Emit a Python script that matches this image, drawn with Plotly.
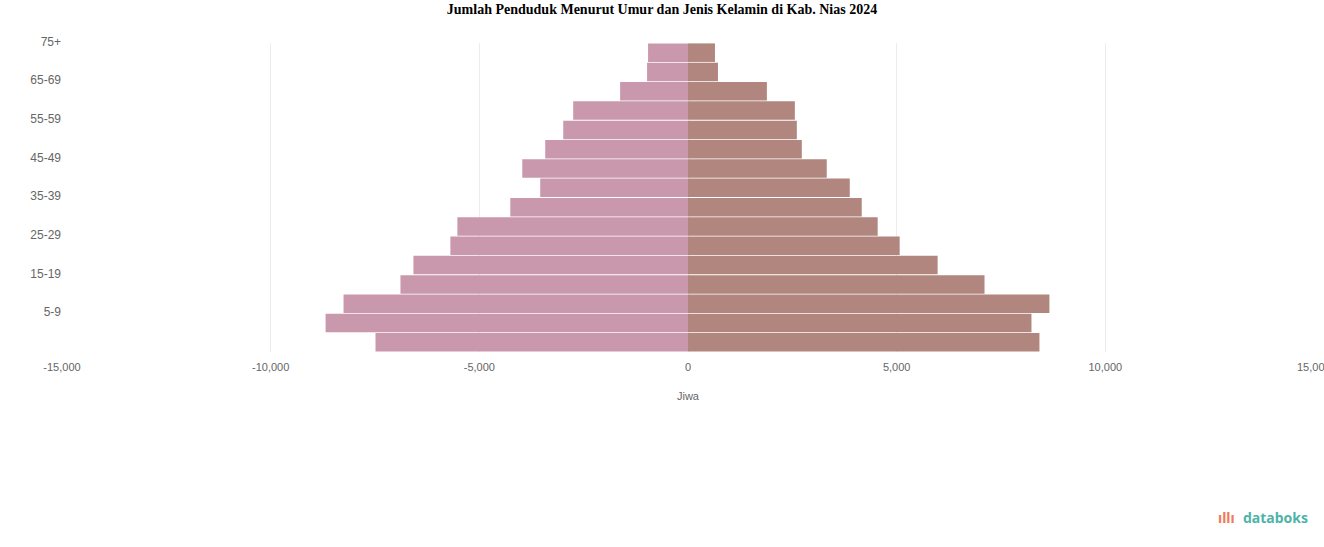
import plotly.graph_objects as go

age_groups = ["0-4", "5-9", "10-14", "15-19", "20-24", "25-29", "30-34", "35-39",
              "40-44", "45-49", "50-54", "55-59", "60-64", "65-69", "70-74", "75+"]
left_values = [7488, 8684, 8254, 6890, 6579, 5694, 5526, 4258,
               3541, 3971, 3421, 2990, 2751, 1627, 981, 957]
right_values = [8421, 8230, 8660, 7105, 5981, 5072, 4545, 4163,
                3876, 3325, 2727, 2608, 2560, 1890, 718, 646]
x_ticks = [-15000, -10000, -5000, 0, 5000, 10000, 15000]
x_tick_text = ["-15,000", "-10,000", "-5,000", "0", "5,000", "10,000", "15,000"]
y_tick_labels = age_groups[1::2]

fig = go.Figure()
fig.add_trace(go.Bar(
    y=age_groups, x=[-v for v in left_values], orientation="h",
    name="Laki-laki", marker=dict(color="#ca98ad", line=dict(width=0)),
    customdata=left_values, hovertemplate="%{y}: %{customdata:,}<extra></extra>",
))
fig.add_trace(go.Bar(
    y=age_groups, x=right_values, orientation="h",
    name="Perempuan", marker=dict(color="#b1867e", line=dict(width=0)),
    hovertemplate="%{y}: %{x:,}<extra></extra>",
))

fig.update_layout(
    width=1324, height=547,
    margin=dict(l=62, r=10, t=43, b=195, autoexpand=False),
    paper_bgcolor="white", plot_bgcolor="white",
    barmode="relative", bargap=0.04,
    showlegend=False,
    title=dict(text="<b>Jumlah Penduduk Menurut Umur dan Jenis Kelamin di Kab. Nias 2024</b>",
               x=0.5, xanchor="center", y=0.984, yanchor="middle",
               font=dict(family="Liberation Serif, Times New Roman, serif", size=14, color="#000000")),
    font=dict(family="Liberation Sans, Arial, sans-serif", size=12, color="#666666"),
)
fig.update_xaxes(
    range=[-15000, 15000], tickvals=x_ticks, ticktext=x_tick_text,
    showgrid=True, gridcolor="#ececec", gridwidth=1,
    zeroline=False, showline=False, ticks="",
    ticklabelstandoff=7,
    tickfont=dict(size=11, color="#666666"),
    title=dict(text="Jiwa", font=dict(size=11, color="#666666"), standoff=20),
)
fig.update_yaxes(
    type="category", categoryorder="array", categoryarray=age_groups,
    tickvals=y_tick_labels, ticktext=y_tick_labels,
    showgrid=False, zeroline=False, showline=False, ticks="",
    ticklabelshift=-11, ticklabelstandoff=0,
    tickfont=dict(size=12, color="#666666"),
)

# last x tick label (cut at the page edge, as in the original)
fig.add_annotation(
    text=x_tick_text[-1], xref="x", yref="paper", x=x_ticks[-1], y=-0.05,
    xanchor="center", yanchor="middle", showarrow=False,
    font=dict(family="Liberation Sans, Arial, sans-serif", size=11, color="#666666"),
)

fig.add_annotation(
    text="<b>databoks</b>", xref="paper", yref="paper", x=0.9968, y=-0.537,
    xanchor="right", yanchor="middle", showarrow=False,
    font=dict(family="Noto Sans, Arial, sans-serif", size=14, color="#4fb3a9"),
)
fig.add_annotation(
    text="<b>ıllı</b>", xref="paper", yref="paper", x=0.9385, y=-0.537,
    xanchor="right", yanchor="middle", showarrow=False,
    font=dict(family="Noto Sans, Arial, sans-serif", size=14, color="#ef7b5a"),
)

fig.write_html("out.html", config={"displayModeBar": False},
               post_script="document.body.style.margin='0';")
